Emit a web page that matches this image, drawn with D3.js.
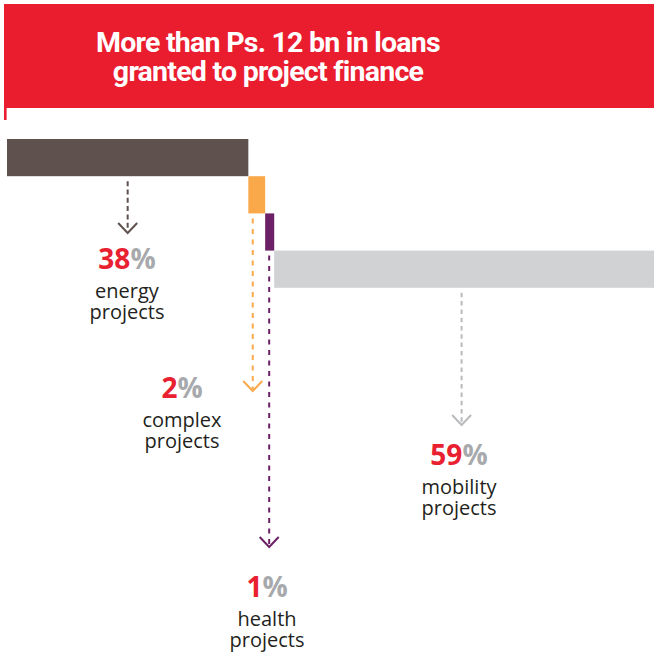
<!DOCTYPE html>
<html>
<head>
<meta charset="utf-8">
<script src="https://cdn.jsdelivr.net/npm/d3@7"></script>
<style>
  html, body { margin: 0; padding: 0; background: #fff; }
  svg { display: block; }
</style>
</head>
<body>
<script>
// ---- data ----
const titleLines = ["More than Ps. 12 bn in loans", "granted to project finance"];
const categories = ["energy", "complex", "health", "mobility"];
const shares = [37.3, 2.6, 1.4, 58.7];          // bar widths (% of total)
const pctLabels = ["38", "2", "1", "59"];        // printed percentages
const nameLabels = ["energy", "complex", "health", "mobility"];
const secondLine = ["projects", "projects", "projects", "projects"];

// ---- styles / layout ----
const W = 654, H = 656;
const barColors = ["#5f524e", "#f9a94a", "#6c2167", "#d1d2d4"];
const arrowColors = ["#5f524e", "#f9a94a", "#6c2167", "#b9babc"];
const dashes = ["5,3.3", "5,5.5", "5,5.5", "4.5,3.8"];
const arrowTipY = [233, 391, 547, 425];
const arrowDx = [0, -4, -0.5, -2.5];
const labelPos = [[127, 269], [182, 398], [267, 597], [459, 465]];
const red = "#e8202f";

const svg = d3.select("body").append("svg").attr("width", W).attr("height", H);

// banner
svg.append("rect").attr("x", 4).attr("y", 4).attr("width", W - 4).attr("height", 104).attr("fill", "#ea1d2f");
svg.append("rect").attr("x", 4).attr("y", 100).attr("width", 2.6).attr("height", 20).attr("fill", "#ea1d2f");
const title = svg.append("text")
  .attr("text-anchor", "middle")
  .attr("fill", "#fff")
  .style("font-family", "Roboto, 'Open Sans', sans-serif")
  .style("font-weight", 700)
  .style("font-size", "28.5px")
  .style("letter-spacing", "-0.75px");
title.selectAll("tspan").data(titleLines).join("tspan")
  .attr("x", 268).attr("y", (d, i) => 52 + i * 28.5)
  .text(d => d);

// scales
const x = d3.scaleLinear().domain([0, 100]).range([7, 654]);
const y = d3.scaleBand().domain(categories).range([139, 139 + 4 * 37.2]).padding(0);

const cum = [];
shares.reduce((acc, v, i) => { cum[i] = acc; return acc + v; }, 0);

const data = categories.map((c, i) => ({
  c, i, share: shares[i], start: cum[i], pct: pctLabels[i], name: nameLabels[i], line2: secondLine[i]
}));

// bars
svg.append("g").selectAll("rect").data(data).join("rect")
  .attr("x", d => x(d.start))
  .attr("y", d => y(d.c))
  .attr("width", d => x(d.start + d.share) - x(d.start))
  .attr("height", y.bandwidth())
  .attr("fill", d => barColors[d.i]);

// arrows
const ag = svg.append("g").attr("fill", "none").attr("stroke-width", 2);
data.forEach(d => {
  const ax = x(d.start + d.share / 2) + arrowDx[d.i];
  const y0 = y(d.c) + y.bandwidth() + 5;
  const tip = arrowTipY[d.i];
  ag.append("line")
    .attr("x1", ax).attr("x2", ax)
    .attr("y1", y0).attr("y2", tip - 2)
    .attr("stroke", arrowColors[d.i])
    .attr("stroke-dasharray", dashes[d.i]);
  ag.append("path")
    .attr("d", d3.line()([[ax - 9.5, tip - 10], [ax, tip], [ax + 9.5, tip - 10]]))
    .attr("stroke", arrowColors[d.i]);
});

// labels: one text block per category
const lg = svg.append("g").attr("text-anchor", "middle");
data.forEach(d => {
  const [lx, ly] = labelPos[d.i];
  const t = lg.append("text").attr("x", lx).attr("y", ly)
    .style("font-family", "'Open Sans', sans-serif");
  t.append("tspan").attr("x", lx).attr("y", ly)
    .attr("fill", red).style("font-weight", 700).style("font-size", "28px").text(d.pct);
  t.append("tspan")
    .attr("fill", "#a7a9ac").style("font-weight", 700).style("font-size", "28px").text("%");
  t.append("tspan").attr("x", lx).attr("y", ly + 28.5)
    .attr("fill", "#231f20").style("font-size", "20px").text(d.name);
  t.append("tspan").attr("x", lx).attr("y", ly + 50)
    .attr("fill", "#231f20").style("font-size", "20px").text(d.line2);
});
</script>
</body>
</html>
